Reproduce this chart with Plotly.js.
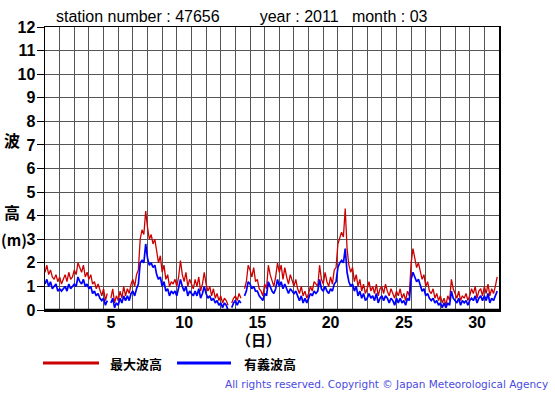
<!DOCTYPE html>
<html><head><meta charset="utf-8">
<script src="https://cdn.plot.ly/plotly-3.0.1.min.js"></script>
<style>html,body{margin:0;padding:0;background:#fff}#c{width:555px;height:395px}</style>
</head><body><div id="c"></div>
<script>
// 3-hourly values, 8 per day, March 2011, station 47656
const maxWave = [
 1.6,1.9,1.5,1.7,1.4,1.3,1.5,1.2,
 1.4,1.1,1.3,1.5,1.2,1.6,1.3,1.4,
 1.7,1.5,2.0,1.8,1.6,1.9,1.4,1.6,
 1.3,1.5,1.1,1.2,0.9,1.1,0.8,0.6,
 0.9,0.4,0.7,null,0.5,0.9,0.3,0.6,
 0.4,0.8,0.5,1.0,0.6,0.9,0.7,1.1,
 1.3,1.0,1.5,1.7,3.0,3.4,3.2,4.2,
 3.5,3.0,3.2,2.8,3.0,2.5,2.0,2.3,
 1.6,1.9,1.3,1.5,1.0,1.2,1.1,1.3,
 1.0,1.4,2.1,1.5,1.2,1.6,1.0,1.3,
 1.1,0.9,1.3,1.0,1.4,0.8,1.1,1.6,
 1.1,0.8,1.0,0.6,0.9,0.5,0.7,0.4,
 0.6,0.3,0.5,0.4,0.2,null,0.3,0.5,
 0.6,0.4,0.7,0.5,null,0.9,1.2,1.9,
 1.7,1.4,1.8,1.2,1.3,0.9,0.8,0.6,
 1.1,0.9,1.9,1.5,1.2,1.0,1.4,2.0,
 1.6,1.9,1.3,1.8,1.4,1.1,1.5,1.2,
 1.0,1.3,0.9,0.7,1.0,0.6,0.8,0.5,
 0.7,1.0,0.8,1.2,1.1,1.0,1.9,1.3,
 1.1,1.6,1.2,1.0,1.4,1.1,1.7,1.8,
 2.8,3.1,3.3,3.1,4.3,2.6,1.9,1.6,
 1.8,1.2,1.5,1.0,1.3,0.8,1.1,0.7,
 0.9,1.2,0.8,1.0,0.7,1.1,0.6,0.9,
 1.0,0.7,1.1,0.8,0.6,0.9,0.7,0.5,
 0.8,0.6,0.9,0.5,0.7,0.4,0.8,0.6,
 2.0,2.6,2.2,1.8,2.0,1.6,1.3,1.5,
 1.0,1.2,0.8,0.7,0.9,0.5,0.7,0.4,
 0.6,0.3,0.5,0.2,0.6,0.4,1.3,0.9,
 0.7,0.5,0.8,0.4,0.6,0.5,0.7,0.4,
 0.6,0.9,0.7,1.0,0.5,0.8,0.9,0.6,
 1.0,0.7,1.1,0.6,0.9,0.7,1.0,1.4
];
const sigWave = [
 1.1,1.3,1.0,1.2,0.9,1.0,1.1,0.8,
 0.9,0.8,0.9,1.0,0.8,1.1,0.9,1.0,
 1.1,1.0,1.4,1.2,1.1,1.3,1.0,1.1,
 0.9,1.0,0.7,0.8,0.6,0.7,0.5,0.4,
 0.5,0.2,0.4,null,0.3,0.5,0.1,0.3,
 0.2,0.5,0.3,0.6,0.4,0.6,0.4,0.7,
 0.8,0.6,0.9,1.1,2.0,2.1,2.0,2.8,
 2.2,1.9,2.0,1.8,1.9,1.5,1.3,1.4,
 1.0,1.2,0.8,0.9,0.6,0.8,0.7,0.8,
 0.6,0.9,1.3,1.0,0.8,1.0,0.6,0.8,
 0.7,0.6,0.8,0.6,0.9,0.5,0.7,1.0,
 0.7,0.5,0.6,0.4,0.5,0.3,0.4,0.2,
 0.3,0.1,0.3,0.2,0.0,null,0.1,0.3,
 0.4,0.2,0.4,0.3,null,0.6,0.8,1.2,
 1.1,0.9,1.0,0.8,0.8,0.6,0.5,0.4,
 0.7,0.6,1.2,1.0,0.8,0.7,0.9,1.3,
 1.0,1.2,0.9,1.1,0.9,0.7,0.9,0.8,
 0.7,0.8,0.6,0.4,0.6,0.3,0.5,0.3,
 0.5,0.7,0.6,0.8,0.7,0.8,1.3,0.9,
 0.8,1.0,0.8,0.7,0.9,0.8,1.1,1.2,
 1.8,2.0,2.1,2.0,2.6,1.6,1.2,1.0,
 1.1,0.8,1.0,0.6,0.8,0.5,0.7,0.4,
 0.5,0.7,0.5,0.6,0.4,0.7,0.3,0.5,
 0.6,0.4,0.6,0.5,0.3,0.5,0.4,0.2,
 0.5,0.3,0.5,0.3,0.4,0.2,0.5,0.4,
 1.3,1.6,1.4,1.2,1.3,1.0,0.8,0.9,
 0.6,0.7,0.5,0.4,0.5,0.3,0.4,0.2,
 0.3,0.1,0.3,0.1,0.3,0.2,0.8,0.5,
 0.4,0.3,0.5,0.2,0.4,0.3,0.4,0.2,
 0.4,0.5,0.4,0.6,0.3,0.5,0.6,0.4,
 0.6,0.4,0.7,0.3,0.5,0.4,0.6,0.8
];
const samplesPerDay = 8;
const dayTickLabels = ["5","10","15","20","25","30"];
const dayTickDays = [5,10,15,20,25,30];
const yTicks = [0,1,2,3,4,5,6,7,8,9,10,11,12];
const seriesNames = ["最大波高","有義波高"];

const t = maxWave.map((_, i) => i / samplesPerDay);
const bold = {family:"Liberation Sans, Arial, sans-serif", size:16, color:"#000", weight:"bold"};
const cjk = "Noto Sans CJK JP, sans-serif";

const data = [
 {x:t, y:maxWave, type:"scatter", mode:"lines", name:seriesNames[0],
  line:{color:"#cc0000", width:1.3}, connectgaps:false, showlegend:false},
 {x:t, y:sigWave, type:"scatter", mode:"lines", name:seriesNames[1],
  line:{color:"#0000ff", width:1.7}, connectgaps:false, showlegend:false}
];

const layout = {
 width:555, height:395,
 margin:{l:45, r:56, t:27, b:85},
 paper_bgcolor:"#fff", plot_bgcolor:"#fff",
 showlegend:false,
 xaxis:{range:[0,31], tickmode:"array",
   tickvals:dayTickDays.map(d => d - 0.5), ticktext:dayTickLabels,
   showgrid:false, zeroline:false, ticks:"", ticklabelstandoff:-3,
   minor:{tickmode:"linear", tick0:0, dtick:1, showgrid:true, gridcolor:"#555", gridwidth:1, ticks:""},
   showline:true, mirror:true, linecolor:"#000", linewidth:1.5,
   tickfont:bold, fixedrange:true},
 yaxis:{range:[0,12], tickmode:"array", tickvals:yTicks, ticktext:yTicks.map(String),
   showgrid:true, gridcolor:"#555", gridwidth:1, zeroline:false,
   ticks:"outside", ticklen:7, tickcolor:"#000", tickwidth:1, ticklabelstandoff:-2,
   showline:true, mirror:true, linecolor:"#000", linewidth:1.5,
   tickfont:bold, fixedrange:true},
 shapes:[
  {type:"line", xref:"paper", yref:"paper", x0:0, x1:1, y0:0, y1:0, line:{color:"#000", width:2.5}},
  {type:"line", xref:"paper", yref:"paper", x0:(43-45)/454, x1:(99-45)/454, y0:-(363-310)/283, y1:-(363-310)/283, line:{color:"#cc0000", width:3}},
  {type:"line", xref:"paper", yref:"paper", x0:(177-45)/454, x1:(231-45)/454, y0:-(363-310)/283, y1:-(363-310)/283, line:{color:"#0000ff", width:3}}
 ],
 annotations:[
  {xref:"paper", yref:"paper", x:(54-45)/454, y:(310-17)/283, xanchor:"left", yanchor:"middle", showarrow:false,
   text:"station number : 47656&nbsp;&nbsp;&nbsp;&nbsp;&nbsp;&nbsp;&nbsp;&nbsp;&nbsp;year : 2011&nbsp;&nbsp;&nbsp;month : 03",
   font:{family:"Liberation Sans, Arial, sans-serif", size:16, color:"#000"}},
  {xref:"paper", yref:"paper", x:(12-45)/454, y:(310-140)/283, xanchor:"center", yanchor:"middle", showarrow:false,
   text:"<b>波</b>", font:{family:cjk, size:16, color:"#000"}},
  {xref:"paper", yref:"paper", x:(12-45)/454, y:(310-212)/283, xanchor:"center", yanchor:"middle", showarrow:false,
   text:"<b>高</b>", font:{family:cjk, size:16, color:"#000"}},
  {xref:"paper", yref:"paper", x:(14-45)/454, y:(310-239)/283, xanchor:"center", yanchor:"middle", showarrow:false,
   text:"<b>(m)</b>", font:{family:cjk, size:15, color:"#000"}},
  {xref:"paper", yref:"paper", x:(258-45)/454, y:-(339-310)/283, xanchor:"center", yanchor:"middle", showarrow:false,
   text:"<b>（日）</b>", font:{family:cjk, size:15, color:"#000"}},
  {xref:"paper", yref:"paper", x:(108-45)/454, y:-(363-310)/283, xanchor:"left", yanchor:"middle", showarrow:false,
   text:"<b>"+seriesNames[0]+"</b>", font:{family:cjk, size:13, color:"#000"}},
  {xref:"paper", yref:"paper", x:(242-45)/454, y:-(363-310)/283, xanchor:"left", yanchor:"middle", showarrow:false,
   text:"<b>"+seriesNames[1]+"</b>", font:{family:cjk, size:13, color:"#000"}},
  {xref:"paper", yref:"paper", x:(550-45)/454, y:-(384-310)/283, xanchor:"right", yanchor:"middle", showarrow:false,
   text:"All rights reserved. Copyright © Japan Meteorological Agency",
   font:{family:"DejaVu Sans, sans-serif", size:10.5, color:"#4a4adf"}}
 ]
};
Plotly.newPlot("c", data, layout, {staticPlot:true, displayModeBar:false});
</script></body></html>
